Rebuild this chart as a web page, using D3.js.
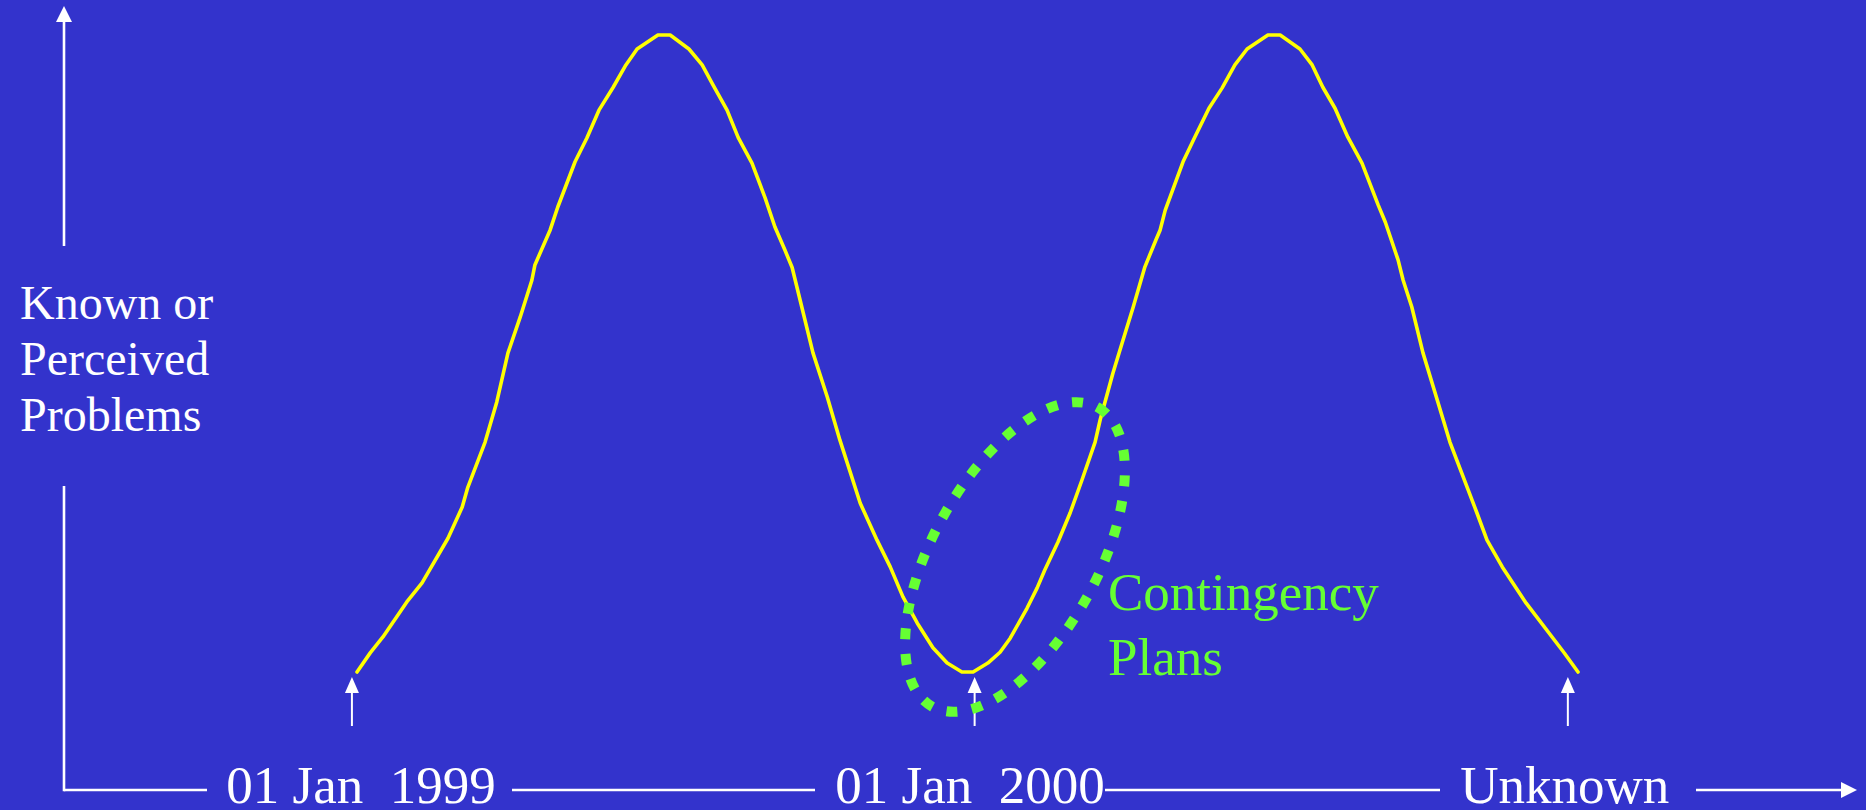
<!DOCTYPE html>
<html>
<head>
<meta charset="utf-8">
<script src="https://cdn.jsdelivr.net/npm/d3@7"></script>
<style>
  html, body { margin: 0; padding: 0; background: #3333CC; }
  svg { display: block; }
  text { font-family: "Liberation Serif", "Times New Roman", serif; }
</style>
</head>
<body>
<svg id="chart" width="1866" height="810"></svg>
<script>
// ---- data (months since 01 Jan 1999, perceived-problem level 0..100) ----
const curveMonths = [0.00,0.26,0.51,0.98,1.28,1.79,2.07,2.18,2.52,2.75,2.97,3.21,3.44,3.50,3.80,3.95,4.29,4.52,4.76,5.04,5.29,5.51,5.92,6.16,6.53,6.79,7.00,7.28,7.50,7.77,8.03,8.22,8.42,8.56,8.75,8.97,9.25,9.50,9.90,10.23,10.49,10.74,11.02,11.33,11.61,11.90,12.12,12.41,12.65,12.85,13.18,13.38,13.53,13.79,14.03,14.26,14.52,14.62,14.87,15.05,15.27,15.50,15.72,15.80,15.90,16.25,16.49,16.76,17.02,17.27,17.51,17.92,18.16,18.55,18.79,19.00,19.24,19.49,19.77,20.09,20.23,20.48,20.58,20.75,20.97,21.27,21.50,21.84,22.03,22.23,22.53,23.00,23.75,24.02];
const curveLevels = [0.0,3.0,5.5,11.0,14.0,21.0,25.9,29.0,36.1,42.4,50.1,55.7,61.5,63.9,69.4,73.0,80.1,83.8,88.2,91.8,95.3,97.8,100,100,97.8,95.3,92.2,88.2,83.9,79.9,74.4,69.9,66.2,63.5,57.3,50.1,43.2,36.4,26.5,20.7,16.5,11.8,7.7,3.8,1.4,0,0,1.4,3.1,5.3,10.0,13.2,16.0,20.4,25.0,30.1,36.1,39.6,46.9,51.6,57.3,63.6,67.9,69.4,72.5,80.1,84.1,88.5,91.7,95.3,97.8,100,100,97.8,95.3,91.8,88.5,84.0,79.9,73.3,70.6,64.7,61.5,57.3,50.1,42.2,36.1,29.0,25.0,20.7,16.5,10.8,2.98,0];

const tickLabels = ["01 Jan\u00a0\u00a01999", "01 Jan\u00a0\u00a02000", "Unknown"];
const tickLabelMonths = [0.08, 12.06, 23.76];
const tickArrowMonths = [-0.1, 12.15, 23.82];
const yLabelLines = ["Known or", "Perceived", "Problems"];
const noteLines = ["Contingency", "Plans"];

// ---- layout ----
const svg = d3.select("#chart");
const x = d3.scaleLinear().domain([0, 24]).range([357, 1577]);
const y = d3.scaleLinear().domain([0, 100]).range([672, 35]);
const W = "#FFFFFF", GREEN = "#66FF33", YEL = "#FFFF00";

svg.append("rect").attr("width", 1866).attr("height", 810).attr("fill", "#3333CC");

// y axis (two segments + arrow)
const axisX = 64, baseY = 790;
svg.append("line").attr("x1", axisX).attr("x2", axisX).attr("y1", 20).attr("y2", 246)
  .attr("stroke", W).attr("stroke-width", 2.6);
svg.append("path").attr("d", `M${axisX},6 L${axisX-8},22 L${axisX+8},22 Z`).attr("fill", W);
svg.append("line").attr("x1", axisX).attr("x2", axisX).attr("y1", 486).attr("y2", baseY + 1.3)
  .attr("stroke", W).attr("stroke-width", 2.6);

// y label
svg.append("g").selectAll("text").data(yLabelLines).join("text")
  .attr("x", 20).attr("y", (d, i) => 319 + i * 56)
  .attr("fill", W).attr("font-size", 48).text(d => d);

// x axis segments between the labels
const segs = [[axisX, 207], [512, 815], [1105, 1440], [1696, 1843]];
svg.append("g").selectAll("line").data(segs).join("line")
  .attr("x1", d => d[0]).attr("x2", d => d[1]).attr("y1", baseY).attr("y2", baseY)
  .attr("stroke", W).attr("stroke-width", 2.6);
svg.append("path").attr("d", `M1857,${baseY} L1841,${baseY-8} L1841,${baseY+8} Z`).attr("fill", W);

// tick labels
svg.append("g").selectAll("text").data(tickLabels).join("text")
  .attr("x", (d, i) => x(tickLabelMonths[i])).attr("y", 803)
  .attr("text-anchor", "middle").attr("fill", W).attr("font-size", 53).text(d => d);

// small up arrows
const ag = svg.append("g").selectAll("g").data(tickArrowMonths).join("g")
  .attr("transform", d => `translate(${x(d)},0)`);
ag.append("line").attr("x1", 0).attr("x2", 0).attr("y1", 690).attr("y2", 726)
  .attr("stroke", W).attr("stroke-width", 2);
ag.append("path").attr("d", "M0,677 L-7,693 L7,693 Z").attr("fill", W);

// curve
const pts = curveMonths.map((m, i) => [m, curveLevels[i]]);
svg.append("path").datum(pts)
  .attr("d", d3.line().x(d => x(d[0])).y(d => y(d[1])).curve(d3.curveLinear))
  .attr("fill", "none").attr("stroke", YEL).attr("stroke-width", 3.6)
  .attr("stroke-linejoin", "round").attr("stroke-linecap", "round");

// contingency ellipse (dotted)
svg.append("ellipse")
  .attr("transform", "translate(1015,557) rotate(-61)")
  .attr("cx", 0).attr("cy", 0).attr("rx", 171).attr("ry", 82.5)
  .attr("fill", "none").attr("stroke", GREEN).attr("stroke-width", 10)
  .attr("stroke-dasharray", "11 14.6");

svg.append("g").selectAll("text").data(noteLines).join("text")
  .attr("x", 1108).attr("y", (d, i) => 610 + i * 65)
  .attr("fill", GREEN).attr("font-size", 53).text(d => d);
</script>
</body>
</html>
